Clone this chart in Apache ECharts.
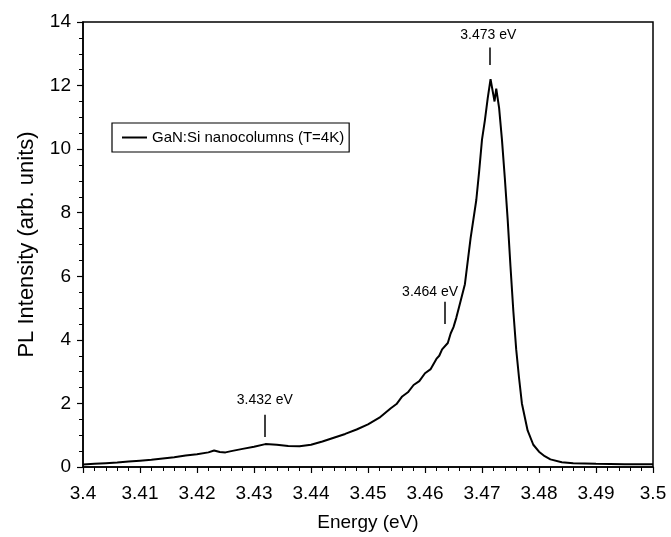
<!DOCTYPE html>
<html><head><meta charset="utf-8">
<script src="https://cdn.jsdelivr.net/npm/echarts@6/dist/echarts.min.js"></script>
<style>html,body{margin:0;padding:0;background:#fff}#c{width:671px;height:537px}</style>
</head><body><div id="c"></div>
<script>
// Energy (eV) and PL intensity (arb. units)
const energy = [
  3.400,3.402,3.404,3.406,3.408,3.410,3.412,3.414,3.416,3.418,
  3.420,3.422,3.423,3.424,3.425,3.426,3.428,3.430,3.432,3.434,
  3.436,3.438,3.440,3.442,3.444,3.446,3.448,3.450,3.452,3.454,
  3.455,3.456,3.457,3.458,3.459,3.460,3.461,3.462,3.4625,3.463,
  3.464,3.4645,3.465,3.4655,3.466,3.467,3.468,3.469,3.4695,3.470,
  3.4705,3.471,3.4715,3.472,3.4722,3.4725,3.473,3.4735,3.474,3.4745,
  3.475,3.4755,3.476,3.4765,3.477,3.478,3.479,3.480,3.481,3.482,
  3.484,3.486,3.490,3.495,3.500
];
const intensity = [
  0.08,0.10,0.12,0.14,0.17,0.20,0.23,0.27,0.31,0.36,
  0.40,0.46,0.52,0.47,0.46,0.50,0.57,0.64,0.72,0.70,
  0.66,0.65,0.70,0.80,0.92,1.04,1.18,1.34,1.55,1.85,
  1.98,2.22,2.35,2.58,2.70,2.95,3.08,3.40,3.50,3.70,
  3.90,4.20,4.40,4.70,5.05,5.75,7.20,8.40,9.30,10.30,
  10.90,11.60,12.20,11.70,11.50,11.90,11.30,10.30,9.10,7.80,
  6.30,4.90,3.70,2.80,2.00,1.15,0.70,0.48,0.34,0.24,
  0.15,0.12,0.10,0.09,0.09
];
const seriesName = 'GaN:Si nanocolumns (T=4K)';
const xMin = 3.40, xMax = 3.50, xStep = 0.01;
const yMin = 0, yMax = 14, yStep = 2;
// Peak annotations: label text, label anchor (x,y), marker segment x and y-range
const annLabels = ['3.432 eV', '3.464 eV', '3.473 eV'];
const annTextX  = [3.4319, 3.4609, 3.4711];
const annTextY  = [2.1, 5.5, 13.6];
const annTickX  = [3.4319, 3.4635, 3.4714];
const annTickY0 = [0.94, 4.5, 12.65];
const annTickY1 = [1.64, 5.2, 13.2];

const data = energy.map((e, i) => [e, intensity[i]]);
const font = '"Liberation Sans", Arial, Helvetica, sans-serif';

const chart = echarts.init(document.getElementById('c'), null, {renderer: 'canvas'});
chart.setOption({
  animation: false,
  backgroundColor: '#fff',
  textStyle: {fontFamily: font, color: '#000'},
  grid: {left: 83, right: 18, top: 22, bottom: 70, show: true, borderColor: '#000', borderWidth: 1.5, backgroundColor: 'transparent'},
  legend: {
    left: 112, top: 123, orient: 'horizontal',
    data: [{name: seriesName, icon: 'rect'}],
    borderColor: '#000', borderWidth: 1.2, padding: [7, 5, 7, 10],
    itemWidth: 25, itemHeight: 2, itemGap: 5,
    itemStyle: {color: '#000'},
    textStyle: {fontFamily: font, fontSize: 15, color: '#000'}
  },
  xAxis: {
    type: 'value', min: xMin, max: xMax, interval: xStep,
    name: 'Energy (eV)', nameLocation: 'middle', nameGap: 46,
    nameTextStyle: {fontFamily: font, fontSize: 19, color: '#000'},
    axisLine: {show: true, lineStyle: {color: '#000', width: 1.5}},
    axisTick: {show: true, inside: false, length: 6, lineStyle: {color: '#000', width: 1.2}},
    minorTick: {show: true, splitNumber: 5, length: 4, lineStyle: {color: '#000', width: 1}},
    splitLine: {show: false},
    axisLabel: {fontFamily: font, fontSize: 19, color: '#000', margin: 17,
      formatter: v => String(+v.toFixed(2))}
  },
  yAxis: {
    type: 'value', min: yMin, max: yMax, interval: yStep,
    name: 'PL Intensity (arb. units)', nameLocation: 'middle', nameGap: 45,
    nameTextStyle: {fontFamily: font, fontSize: 22, color: '#000'},
    axisLine: {show: true, lineStyle: {color: '#000', width: 1.5}},
    axisTick: {show: true, inside: false, length: 6, lineStyle: {color: '#000', width: 1.2}},
    minorTick: {show: true, splitNumber: 4, length: 4, lineStyle: {color: '#000', width: 1}},
    splitLine: {show: false},
    axisLabel: {fontFamily: font, fontSize: 19, color: '#000', margin: 12}
  },
  series: [{
    name: seriesName, type: 'line', data: data,
    symbol: 'none', showSymbol: false, smooth: false,
    lineStyle: {color: '#000', width: 2}, itemStyle: {color: '#000'},
    markLine: {
      silent: true, symbol: ['none', 'none'], animation: false,
      lineStyle: {color: '#000', width: 1.5, type: 'solid'},
      label: {show: false},
      data: annTickX.map((x, i) => [{coord: [x, annTickY0[i]]}, {coord: [x, annTickY1[i]]}])
    },
    markPoint: {
      silent: true, symbol: 'circle', symbolSize: 1, animation: false,
      itemStyle: {color: 'rgba(0,0,0,0)'},
      label: {show: true, position: 'inside', formatter: p => p.name, fontFamily: font, fontSize: 14, color: '#000'},
      data: annLabels.map((t, i) => ({name: t, coord: [annTextX[i], annTextY[i]]}))
    }
  }]
});
</script></body></html>
